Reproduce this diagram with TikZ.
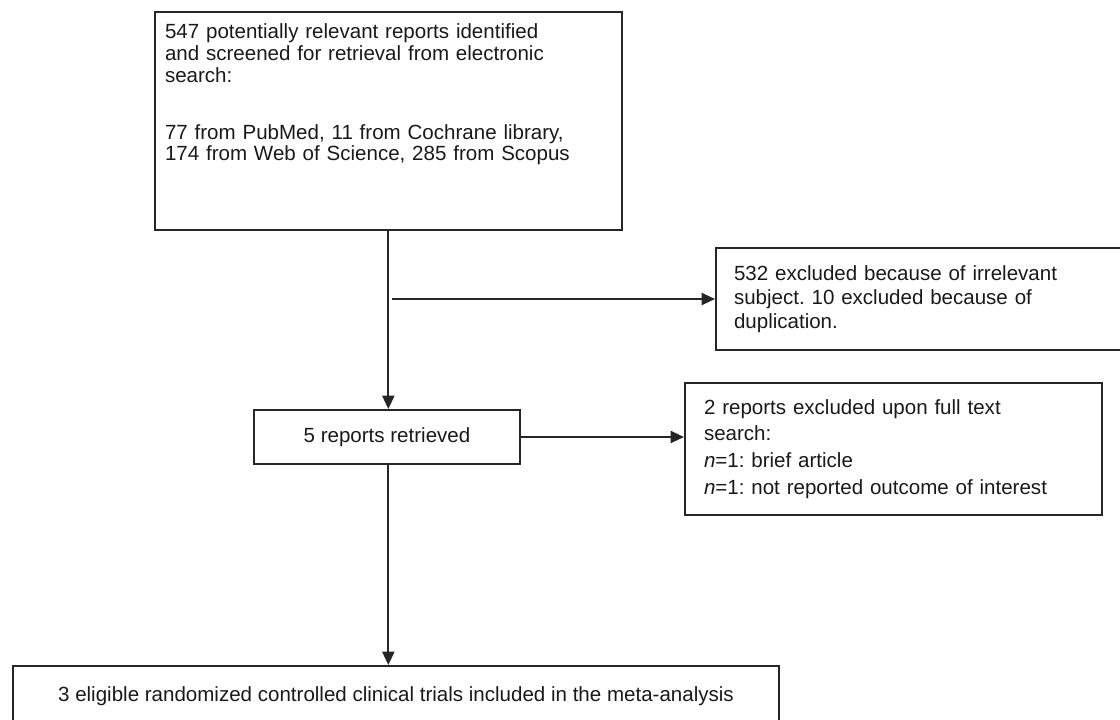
\documentclass[tikz,border=0pt]{standalone}
\usepackage{fontspec}
\setmainfont{Liberation Sans}
\frenchspacing
\usetikzlibrary{arrows.meta}

\begin{document}
\begin{tikzpicture}[x=0.75pt,y=-0.75pt,
                    box/.style={draw=black!85,line width=1.5pt,align=left,inner ysep=0pt,anchor=north west,
                                text=black!90,font=\fontsize{15.4}{18}\selectfont},
                    flow/.style={draw=black!85,line width=1.5pt,-{Triangle[length=10pt,width=9pt]}}]
  \useasboundingbox (0,0) rectangle (1120,719);
  \node[box,inner xsep=7.5pt,text width=335pt,text height=20pt,text depth=143.5pt,
        font=\fontsize{15.4}{16.3}\selectfont] (search) at (154,11)
    {547 potentially relevant reports identified\\
     and screened for retrieval from electronic\\
     search:\\[26.5pt]
     77 from PubMed, 11 from Cochrane library,\\
     174 from Web of Science, 285 from Scopus};
  \node[box,inner xsep=13.5pt,text width=288pt,minimum height=76.5pt] (excl1) at (715,247)
    {532 excluded because of irrelevant\\
     subject. 10 excluded because of\\
     duplication.};
  \node[box,minimum width=199.5pt,minimum height=40.5pt] (retrieved) at (253,409) {5 reports retrieved};
  \node[box,inner xsep=14.25pt,text width=284pt,minimum height=99pt,
        font=\fontsize{15.4}{20}\selectfont] (excl2) at (684,382)
    {2 reports excluded upon full text\\
     search:\\
     \textit{n}=1: brief article\\
     \textit{n}=1: not reported outcome of interest};
  \node[box,minimum width=574.5pt,minimum height=45pt] (included) at (12,665)
    {3 eligible randomized controlled clinical trials included in the meta-analysis};

  \draw[flow] (search.south) -- (search.south |- retrieved.north);
  \coordinate (branch) at ([xshift=3pt]search.south |- excl1.west);
  \draw[flow] (branch) -- (excl1.west);
  \draw[flow] (retrieved.east) -- (retrieved.east -| excl2.west);
  \draw[flow] (search.south |- retrieved.south) -- (search.south |- included.north);
\end{tikzpicture}
\end{document}
